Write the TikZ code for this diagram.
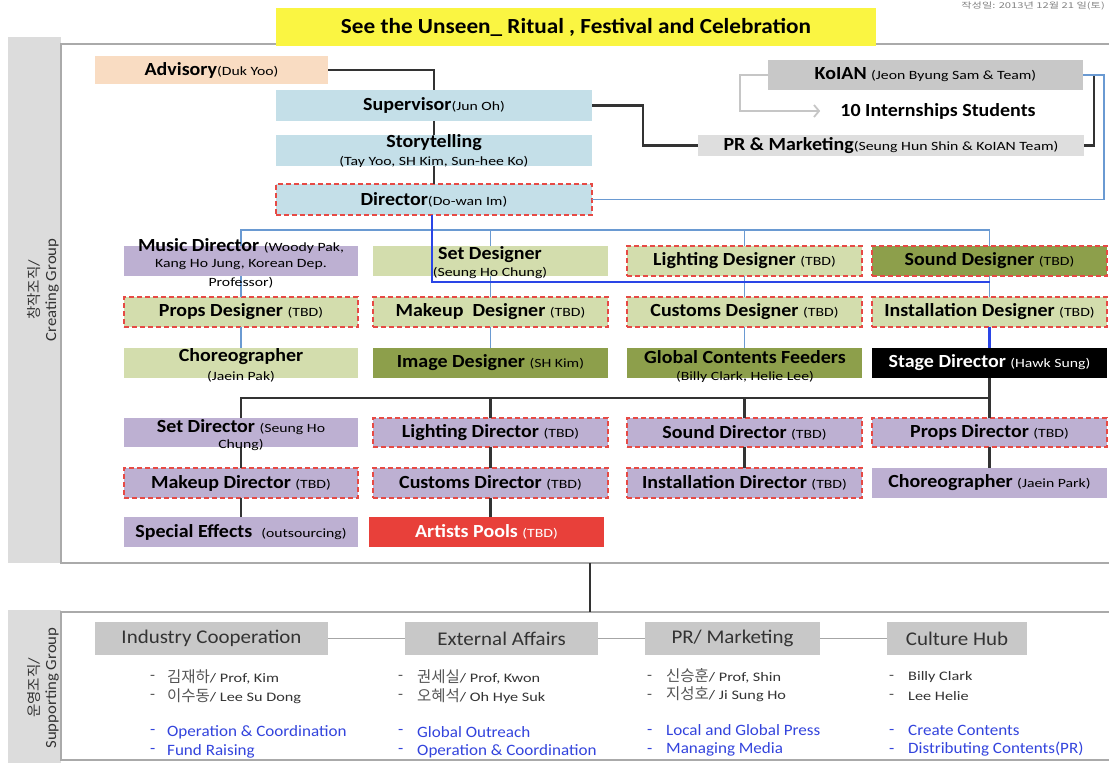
\documentclass[tikz,border=0pt]{standalone}
\usepackage{fontspec}
\setmainfont{Carlito}[FakeStretch=1.08]
\newfontfamily\smf{Carlito}[FakeStretch=1.25]
\newfontfamily\kr{Noto Sans CJK KR}
\newfontfamily\krw{Noto Sans CJK KR}[FakeStretch=1.4]
\usetikzlibrary{arrows.meta,calc}
\definecolor{peach}{HTML}{F9DCC2}
\definecolor{lblue}{HTML}{C4DFE8}
\definecolor{lgreen}{HTML}{D3DDAD}
\definecolor{olive}{HTML}{8D9F4B}
\definecolor{lav}{HTML}{BDB0D2}
\definecolor{gry}{HTML}{C8C8C8}
\definecolor{lgry}{HTML}{DEDEDE}
\definecolor{tabg}{HTML}{DCDCDC}
\definecolor{dred}{HTML}{E64A45}
\definecolor{steel}{HTML}{6A9AD2}
\definecolor{bblue}{HTML}{2A45E6}
\definecolor{dk}{HTML}{333333}
\definecolor{ttl}{HTML}{FAF542}
\definecolor{apred}{HTML}{E8403A}
\definecolor{lnk}{HTML}{3344DD}
\definecolor{pan}{HTML}{AAAAAA}
\definecolor{kog}{HTML}{555555}
\newcommand\sm[1]{{\smf\fontsize{12.6}{14}\selectfont\mdseries #1}}
\newcommand\kol[1]{{\kr\fontsize{15.5}{17}\selectfont\color{kog}#1}}
\newcommand\bx[7]{\node[#6, anchor=north west, minimum width={#4-#2}, minimum height={#5-#3}] (#1) at (#2,#3) {#7};}
\begin{document}
\begin{tikzpicture}[x=1pt,y=-1pt,
  box/.style={draw=none, rectangle, inner sep=0pt, outer sep=0pt, font=\fontsize{18.5}{20}\selectfont\bfseries, text=black},
  dsh/.style={draw=dred, dash pattern=on 5pt off 3pt, line width=1.6pt},
  t/.style={inner sep=0pt, font=\fontsize{18.5}{20}\selectfont\bfseries, text=black},
  dkl/.style={draw=dk, line width=2.2pt},
  stl/.style={draw=steel, line width=1.8pt},
  bbl/.style={draw=bblue, line width=2.2pt},
  hdr/.style={fill=gry, rectangle, inner sep=0pt, outer sep=0pt, font=\fontsize{19.4}{22}\selectfont, text=dk},
  lst/.style={anchor=west, inner sep=0pt, font=\smf\fontsize{13}{15}\selectfont, text=dk},
  blu/.style={anchor=west, inner sep=0pt, font=\fontsize{15.8}{17}\selectfont, text=lnk},
  tab/.style={rotate=90, align=center, inner sep=0pt, font=\fontsize{15.5}{17}\selectfont, text=dk}]
\useasboundingbox (0,0) rectangle (1109,763);
% panels
\fill[tabg] (8,37) rectangle (61,563);
\draw[pan, line width=1.2pt, fill=white] (61,44) rectangle (1120,563);
\fill[tabg] (8,610) rectangle (61,770);
\draw[pan, line width=1.2pt, fill=white] (61,612) rectangle (1120,760);
\node[tab] (tabc) at (43,290) {{\kr\fontsize{14.5}{17}\selectfont 창작조직}/\\Creating Group};
\node[tab] (tabs) at (43,688) {{\kr\fontsize{14.5}{17}\selectfont 운영조직}/\\Supporting Group};
\node[anchor=east, inner sep=0pt, font=\krw\fontsize{8}{9}\selectfont, text=gray] (date) at (1105,6) {작성일: 2013년 12월 21 일(토)};
% title
\bx{title}{276}{8}{876}{46}{box,fill=ttl,font=\fontsize{21.5}{24}\selectfont\bfseries}{See the Unseen\_ Ritual , Festival and Celebration}
% top boxes
\bx{adv}{95}{56}{328}{84}{box,fill=peach}{Advisory\sm{(Duk Yoo)}}
\bx{sup}{276}{90}{592}{121}{box,fill=lblue}{Supervisor\sm{(Jun Oh)}}
\bx{story}{276}{135}{592}{166}{box,fill=lblue}{}
\bx{dir}{276}{184}{592}{215}{box,fill=lblue,dsh}{Director\sm{(Do-wan Im)}}
\bx{koian}{768}{60}{1083}{90}{box,fill=gry}{KoIAN \sm{(Jeon Byung Sam \& Team)}}
\bx{pr}{698}{135}{1084}{156}{box,fill=lgry}{PR \& Marketing\sm{(Seung Hun Shin \& KoIAN Team)}}
\node[t] (intern) at (938,111) {10 Internships Students};
% grid
\bx{music}{124}{246}{358}{276}{box,fill=lav}{}
\bx{setdes}{373}{246}{608}{276}{box,fill=lgreen}{}
\bx{lightdes}{627}{246}{862}{276}{box,fill=lgreen,dsh}{Lighting Designer \sm{(TBD)}}
\bx{sounddes}{872}{246}{1107}{276}{box,fill=olive,dsh}{Sound Designer \sm{(TBD)}}
\bx{propsdes}{124}{297}{358}{327}{box,fill=lgreen,dsh}{Props Designer \sm{(TBD)}}
\bx{makeupdes}{373}{297}{608}{327}{box,fill=lgreen,dsh}{Makeup~ Designer \sm{(TBD)}}
\bx{customsdes}{627}{297}{862}{327}{box,fill=lgreen,dsh}{Customs Designer \sm{(TBD)}}
\bx{instdes}{872}{297}{1107}{327}{box,fill=lgreen,dsh}{Installation Designer \sm{(TBD)}}
\bx{choreo}{124}{348}{358}{378}{box,fill=lgreen}{}
\bx{imagedes}{373}{348}{608}{378}{box,fill=olive}{Image Designer \sm{(SH Kim)}}
\bx{global}{627}{348}{862}{378}{box,fill=olive}{}
\bx{stage}{872}{348}{1107}{378}{box,fill=black,text=white}{Stage Director \sm{(Hawk Sung)}}
\bx{setdir}{124}{418}{358}{447}{box,fill=lav}{}
\bx{lightdir}{373}{418}{608}{447}{box,fill=lav,dsh}{Lighting Director \sm{(TBD)}}
\bx{sounddir}{627}{418}{862}{447}{box,fill=lav,dsh}{Sound Director \sm{(TBD)}}
\bx{propsdir}{872}{418}{1107}{447}{box,fill=lav,dsh}{Props Director \sm{(TBD)}}
\bx{makeupdir}{124}{468}{358}{498}{box,fill=lav,dsh}{Makeup Director \sm{(TBD)}}
\bx{customsdir}{373}{468}{608}{498}{box,fill=lav,dsh}{Customs Director \sm{(TBD)}}
\bx{instdir}{627}{468}{862}{498}{box,fill=lav,dsh}{Installation Director \sm{(TBD)}}
\bx{choreodir}{872}{468}{1107}{498}{box,fill=lav}{Choreographer \sm{(Jaein Park)}}
\bx{sfx}{124}{517}{358}{547}{box,fill=lav}{Special Effects~ \sm{(outsourcing)}}
\bx{artists}{369}{517}{604}{547}{box,fill=apred,text=white}{Artists Pools \sm{(TBD)}}
% connectors top
\draw[dkl] (adv.east) -| (sup.north);
\draw[dkl] (sup.south) -- (story.north);
\draw[dkl] (story.south) -- (dir.north);
\draw[dkl] (sup.east) -- ++(51,0) |- (pr.west);
\draw[dkl] (pr.east) -- ++(10,0) |- (koian.east);
\draw[stl] (koian.east) -- ++(21,0) |- (dir.east);
\draw[gray!45, line width=1.8pt, -{Straight Barb[length=5pt,width=12pt]}] (koian.west) -- ++(-28,0) |- ($(intern.west)+(-20,0)$);
% blue grid
\draw[stl] (music.north) -- ++(0,-16) -| (sounddes.north);
\draw[stl] (setdes.north) -- ++(0,-16);
\draw[stl] (lightdes.north) -- ++(0,-16);
\draw[stl] (music.south) -- (propsdes.north);
\draw[stl] (propsdes.south) -- (choreo.north);
\draw[stl] (setdes.south) -- (makeupdes.north);
\draw[stl] (makeupdes.south) -- (imagedes.north);
\draw[stl] (lightdes.south) -- (customsdes.north);
\draw[stl] (customsdes.south) -- (global.north);
\draw[stl] (sounddes.south) -- (instdes.north);
\draw[bbl] (instdes.south) -- (stage.north);
\coordinate (bj) at (989.5,282);
\draw[bbl] ($(dir.south)+(-2,0)$) |- (bj);
% director bus
\draw[dkl] (stage.south) -- ++(0,20) -| (setdir.north);
\draw[dkl] (lightdir.north) -- ++(0,-20);
\draw[dkl] (sounddir.north) -- ++(0,-20);
\draw[dkl] (stage.south) -- (propsdir.north);
\draw[dkl] (setdir.south) -- (makeupdir.north);
\draw[dkl] (makeupdir.south) -- (sfx.north);
\draw[dkl] (lightdir.south) -- (customsdir.north);
\draw[dkl] (customsdir.south) -- (customsdir.south |- artists.north);
\draw[dkl] (sounddir.south) -- (instdir.north);
\draw[dkl] (propsdir.south) -- (choreodir.north);
\coordinate (cgb) at (590,563);
\coordinate (sgt) at (590,612);
\draw[dkl] (cgb) -- (sgt);
% overflow texts
\node[t] (storyt) at (434,143) {Storytelling};
\node[t] (storys) at (434,162) {\sm{(Tay Yoo, SH Kim, Sun-hee Ko)}};
\node[t] (mus1) at (241,246) {Music Director \sm{(Woody Pak,}};
\node[t] (mus2) at (241,265) {\sm{Kang Ho Jung, Korean Dep.}};
\node[t] (mus3) at (241,283) {\sm{Professor)}};
\node[t] (setd1) at (490,255) {Set Designer};
\node[t] (setd2) at (490,273) {\sm{(Seung Ho Chung)}};
\node[t] (cho1) at (241,357) {Choreographer};
\node[t] (cho2) at (241,377) {\sm{(Jaein Pak)}};
\node[t] (glo1) at (745,357) {Global Contents Feeders};
\node[t] (glo2) at (745,377) {\sm{(Billy Clark, Helie Lee)}};
\node[t] (sdr1) at (241,427) {Set Director \sm{(Seung Ho}};
\node[t] (sdr2) at (241,445) {\sm{Chung)}};
% supporting group
\bx{ind}{95}{622}{328}{655}{hdr}{Industry Cooperation}
\bx{ext}{405}{622}{598}{655}{hdr}{External Affairs}
\bx{prm}{645}{622}{820}{655}{hdr}{PR/ Marketing}
\bx{cul}{887}{622}{1027}{655}{hdr}{Culture Hub}
\draw[gray!70, line width=1.5pt] (ind.east) -- (ext.west);
\draw[gray!70, line width=1.5pt] (ext.east) -- (prm.west);
\draw[gray!70, line width=1.5pt] (prm.east) -- (cul.west);
\foreach \x/\n in {150/a,398/b,647/c,889/d}{
  \node[lst] (d1\n) at (\x,677) {-};
  \node[lst] (d2\n) at (\x,696) {-};
  \node[blu] (d3\n) at (\x,732) {-};
  \node[blu] (d4\n) at (\x,751) {-};
}
\node[lst] (i1) at (167,677) {\kol{김재하}/ Prof, Kim};
\node[lst] (i2) at (167,696) {\kol{이수동}/ Lee Su Dong};
\node[blu] (i3) at (167,732) {Operation \& Coordination};
\node[blu] (i4) at (167,751) {Fund Raising};
\node[lst] (e1) at (417,677) {\kol{권세실}/ Prof, Kwon};
\node[lst] (e2) at (417,696) {\kol{오혜석}/ Oh Hye Suk};
\node[blu] (e3) at (417,732) {Global Outreach};
\node[blu] (e4) at (417,751) {Operation \& Coordination};
\node[lst] (p1) at (666,676) {\kol{신승훈}/ Prof, Shin};
\node[lst] (p2) at (666,694) {\kol{지성호}/ Ji Sung Ho};
\node[blu] (p3) at (666,730) {Local and Global Press};
\node[blu] (p4) at (666,749) {Managing Media};
\node[lst] (c1) at (908,677) {Billy Clark};
\node[lst] (c2) at (908,696) {Lee Helie};
\node[blu] (c3) at (908,730) {Create Contents};
\node[blu] (c4) at (908,749) {Distributing Contents(PR)};
\end{tikzpicture}
\end{document}
